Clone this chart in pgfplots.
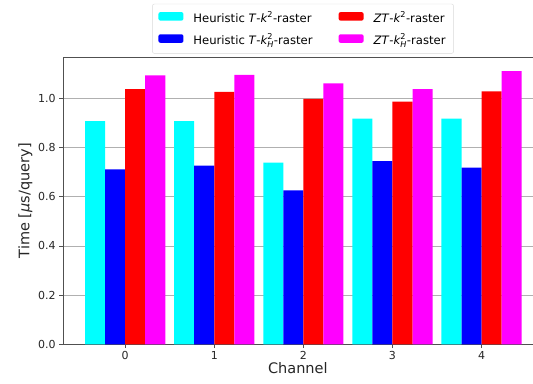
\documentclass[border=0pt]{standalone}
\usepackage{pgfplots}
\pgfplotsset{compat=1.18}
\usepackage{amsmath}
\usepackage{fontspec}
\setmainfont{DejaVu Sans}

\definecolor{spinegray}{RGB}{80,80,80}
\definecolor{gridgray}{RGB}{176,176,176}
\definecolor{barcyan}{RGB}{0,255,255}
\definecolor{barblue}{RGB}{0,0,255}
\definecolor{barred}{RGB}{255,0,0}
\definecolor{barmagenta}{RGB}{255,0,255}

\newcommand{\kk}{$\text{\itshape k}^{\text{2}}$}
\newcommand{\kH}{$\text{\itshape k}^{\text{2}}_{\text{\itshape H}}$}

\begin{document}
\begin{tikzpicture}
\begin{axis}[
  scale only axis,
  width=469pt, height=287pt,
  ybar=0pt,
  bar width=0.225,
  xmin=-0.697, xmax=4.573,
  ymin=0, ymax=1.167,
  axis x line*=box,
  axis y line*=left,
  axis line style={spinegray, line width=0.8pt},
  xtick={0,1,2,3,4},
  ytick={0,0.2,0.4,0.6,0.8,1.0},
  xtick pos=bottom, ytick pos=left,
  tick align=outside,
  major tick length=3.8pt,
  tick style={spinegray, line width=0.8pt},
  yticklabel style={/pgf/number format/fixed, /pgf/number format/fixed zerofill, /pgf/number format/precision=1},
  /pgf/number format/assume math mode=true,
  ticklabel style={font=\fontsize{11}{13}\selectfont, text=black!85},
  ymajorgrids,
  grid style={gridgray, line width=0.8pt},
  xlabel={Channel},
  ylabel={Time [\textit{μ}s/query]},
  label style={font=\fontsize{14.5}{17}\selectfont, text=black!85},
  xlabel style={yshift=4pt},
  ylabel style={yshift=-1pt},
  legend columns=2,
  legend transposed=true,
  legend cell align=left,
  legend style={
    at={(0.511,1.012)}, anchor=south,
    draw=black!15, rounded corners=2pt,
    font=\fontsize{11.6}{13}\selectfont,
    /tikz/every even column/.append style={column sep=24pt},
    row sep=5pt, inner xsep=6pt, inner ysep=5pt,
  },
  legend image code/.code={
    \fill[#1] (0pt,-3pt) rectangle (25pt,5.5pt);
    \path (33pt,0pt);
  },
]
\addplot[fill=barcyan, draw=none] coordinates {(0,0.907) (1,0.907) (2,0.738) (3,0.917) (4,0.917)};
\addplot[fill=barblue, draw=none] coordinates {(0,0.711) (1,0.726) (2,0.626) (3,0.744) (4,0.718)};
\addplot[fill=barred, draw=none] coordinates {(0,1.037) (1,1.026) (2,0.997) (3,0.986) (4,1.028)};
\addplot[fill=barmagenta, draw=none] coordinates {(0,1.093) (1,1.095) (2,1.060) (3,1.037) (4,1.110)};
\legend{Heuristic \textit{T}-\kk-raster, Heuristic \textit{T}-\kH-raster, \textit{ZT}-\kk-raster, \textit{ZT}-\kH-raster}
\end{axis}
% page extent: room for the labels on the left and below, and above the legend
\path (current axis.south west) ++(-63pt,-39pt) (current axis.north east) ++(0pt,57pt);
\end{tikzpicture}
\end{document}
